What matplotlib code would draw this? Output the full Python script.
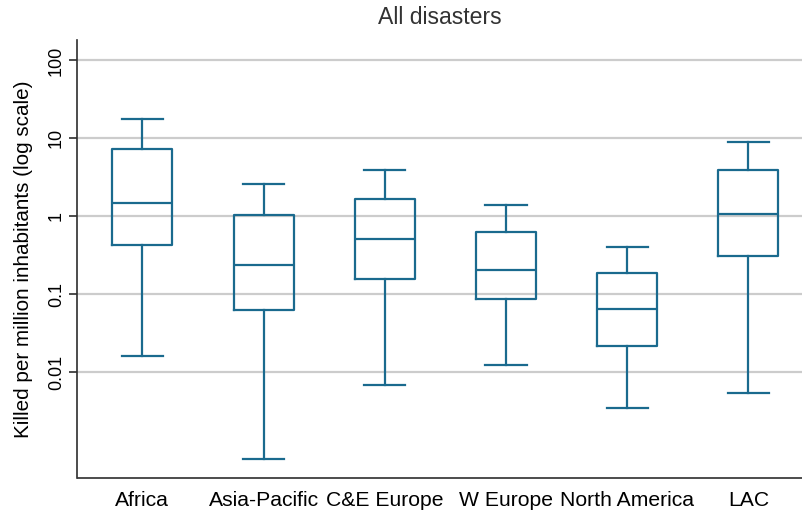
import matplotlib
matplotlib.use("Agg")
import matplotlib.pyplot as plt
from matplotlib.ticker import FixedLocator, NullLocator

plt.rcParams['font.family'] = ['Liberation Sans', 'DejaVu Sans']

regions = ["Africa", "Asia-Pacific", "C&E Europe", "W Europe", "North America", "LAC"]
whisker_low = [0.0162, 0.00077, 0.00675, 0.0122, 0.00342, 0.00533]
quartile_1 = [0.428, 0.0629, 0.156, 0.0855, 0.0218, 0.307]
medians = [1.50, 0.235, 0.512, 0.203, 0.0648, 1.08]
quartile_3 = [7.38, 1.05, 1.65, 0.624, 0.184, 3.89]
whisker_high = [17.7, 2.57, 3.89, 1.40, 0.401, 8.97]

y_ticks = [0.01, 0.1, 1, 10, 100]
y_tick_labels = ["0.01", "0.1", "1", "10", "100"]

box_color = "#1a6a8e"
axis_color = "#2e2e2e"

stats = [
    dict(label=r, whislo=lo, q1=a, med=m, q3=b, whishi=hi)
    for r, lo, a, m, b, hi in zip(regions, whisker_low, quartile_1, medians,
                                  quartile_3, whisker_high)
]

fig = plt.figure(figsize=(8.03, 5.17), dpi=100)
ax = fig.add_axes([77.5 / 803, (517 - 478) / 517, (803 - 77.5) / 803, 438 / 517])

ax.set_yscale("log")
ax.set_ylim(10 ** -3.361, 10 ** 2.263)
ax.set_xlim(0.465, 6.451)

lw = 1.6
ax.bxp(
    stats,
    positions=range(1, len(regions) + 1),
    widths=0.495,
    capwidths=0.34,
    showfliers=False,
    boxprops=dict(color=box_color, linewidth=lw),
    medianprops=dict(color=box_color, linewidth=lw),
    whiskerprops=dict(color=box_color, linewidth=lw),
    capprops=dict(color=box_color, linewidth=lw),
    zorder=3,
)

ax.yaxis.set_major_locator(FixedLocator(y_ticks))
ax.yaxis.set_minor_locator(NullLocator())
ax.set_yticklabels(y_tick_labels, rotation=90, va="center", fontsize=13)
ax.grid(axis="y", color="#cccccc", linewidth=1.6, zorder=0)
ax.set_axisbelow(True)

ax.tick_params(axis="y", length=6, width=1.2, color=axis_color, pad=3)
ax.tick_params(axis="x", length=0, pad=9, labelsize=15.2)
ax.set_xticks(range(1, len(regions) + 1))
ax.set_xticklabels(regions)

for side in ("top", "right"):
    ax.spines[side].set_visible(False)
for side in ("left", "bottom"):
    ax.spines[side].set_color(axis_color)
    ax.spines[side].set_linewidth(1.2)

ax.set_ylabel("Killed per million inhabitants (log scale)", fontsize=14.9)
ax.yaxis.set_label_coords(-44.5 / 725.5, 0.5)
fig.text(440.25 / 803, 1 - 18 / 517, "All disasters", ha="center", va="center",
         fontsize=16.6, color="#333333")

fig.savefig("out.png", dpi=100)
